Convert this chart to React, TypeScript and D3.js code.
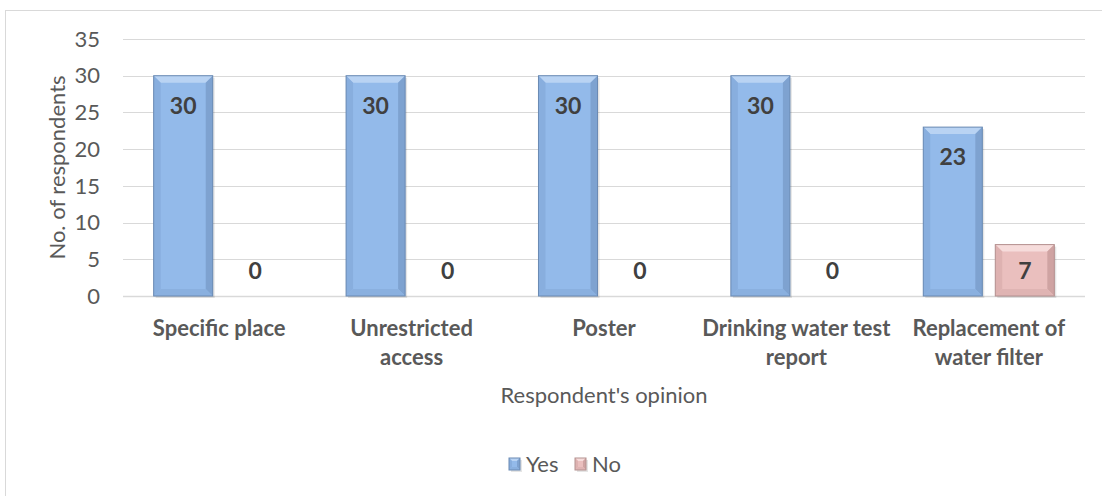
import React from "react";
import * as d3 from "d3";

const categories: string[][] = [
  ["Specific place"],
  ["Unrestricted", "access"],
  ["Poster"],
  ["Drinking water test", "report"],
  ["Replacement of", "water filter"],
];
const yesValues = [30, 30, 30, 30, 23];
const noValues = [0, 0, 0, 0, 7];
const seriesNames = ["Yes", "No"];
const yTicks = [0, 5, 10, 15, 20, 25, 30, 35];

const W = 1102;
const H = 496;
const FONT = "Lato, 'Open Sans', sans-serif";

const colors: Record<string, { base: string; light: string; dark: string; darker: string; bottom: string; stroke: string }> = {
  Yes: { base: "#93BAEA", light: "#B9D3F3", dark: "#88AEDE", darker: "#7EA2D0", bottom: "#8AB0DF", stroke: "#6A8AB3" },
  No: { base: "#EABFBE", light: "#F6DCDB", dark: "#DEB2B1", darker: "#CFA3A2", bottom: "#DFB4B3", stroke: "#B39190" },
};

function BevelBar({ x, y, w, h, s, b0 = 7 }: { x: number; y: number; w: number; h: number; s: string; b0?: number }) {
  if (h <= 0) return null;
  const c = colors[s];
  const b = Math.min(b0, h / 2, w / 2);
  const x2 = x + w;
  const y2 = y + h;
  return (
    <g>
      <rect x={x + 2} y={y + 2} width={w} height={h} fill="#000" opacity={0.1} />
      <rect x={x} y={y} width={w} height={h} fill={c.base} />
      <polygon points={`${x},${y} ${x2},${y} ${x2 - b},${y + b} ${x + b},${y + b}`} fill={c.light} />
      <polygon points={`${x},${y} ${x + b},${y + b} ${x + b},${y2 - b} ${x},${y2}`} fill={c.dark} />
      <polygon points={`${x2},${y} ${x2},${y2} ${x2 - b},${y2 - b} ${x2 - b},${y + b}`} fill={c.darker} />
      <polygon points={`${x},${y2} ${x + b},${y2 - b} ${x2 - b},${y2 - b} ${x2},${y2}`} fill={c.bottom} />
      <rect x={x} y={y} width={w} height={h} fill="none" stroke={c.stroke} strokeWidth={1} />
    </g>
  );
}

export default function App() {
  const x = d3
    .scaleBand<number>()
    .domain(d3.range(categories.length))
    .range([123, 1085])
    .paddingInner(0)
    .paddingOuter(0);
  const xs = d3
    .scaleBand<string>()
    .domain(seriesNames)
    .range([0, x.bandwidth()])
    .paddingInner(0.18)
    .paddingOuter(0.426);
  const y = d3.scaleLinear().domain([0, 35]).range([296, 39]);

  const series: Record<string, number[]> = { Yes: yesValues, No: noValues };

  return (
    <div style={{ position: "absolute", left: 0, top: 0 }}>
      <svg width={W} height={H} style={{ display: "block", fontFamily: FONT }}>
        <rect x={0} y={0} width={W} height={H} fill="#fff" />
        <rect x={5.5} y={10.5} width={1200} height={600} fill="none" stroke="#D9D9D9" strokeWidth={1} />
        {yTicks.map((t) => (
          <g key={t}>
            <line
              x1={123}
              x2={1085}
              y1={Math.round(y(t)) + 0.5}
              y2={Math.round(y(t)) + 0.5}
              stroke="#D9D9D9"
              strokeWidth={t === 0 ? 1.5 : 1}
            />
            <text x={100} y={y(t)} dy="0.35em" textAnchor="end" fontSize={22} fill="#595959">
              {t}
            </text>
          </g>
        ))}
        <text
          transform={`translate(57,${(y(0) + y(35)) / 2}) rotate(-90)`}
          textAnchor="middle"
          dy="0.35em"
          fontSize={22}
          fill="#595959"
        >
          No. of respondents
        </text>
        {categories.map((cat, i) =>
          seriesNames.map((s) => {
            const v = series[s][i];
            const bx = (x(i) as number) + (xs(s) as number);
            const bw = xs.bandwidth();
            const top = y(v);
            const ly = s === "Yes" ? top + 30 : y(0) - 25;
            return (
              <g key={`${i}-${s}`}>
                <BevelBar x={bx} y={top} w={bw} h={y(0) - top} s={s} />
                <text
                  x={bx + bw / 2}
                  y={ly}
                  dy="0.35em"
                  textAnchor="middle"
                  fontSize={23}
                  fontWeight="bold"
                  fill="#404040"
                >
                  {v}
                </text>
              </g>
            );
          })
        )}
        {categories.map((cat, i) => (
          <text
            key={i}
            x={(x(i) as number) + x.bandwidth() / 2}
            textAnchor="middle"
            fontSize={22}
            fontWeight="bold"
            fill="#595959"
          >
            {cat.map((line, j) => (
              <tspan key={j} x={(x(i) as number) + x.bandwidth() / 2} y={328 + j * 29} dy="0.35em">
                {line}
              </tspan>
            ))}
          </text>
        ))}
        <text x={604} y={395} dy="0.35em" textAnchor="middle" fontSize={22} fill="#595959">
          Respondent's opinion
        </text>
        {seriesNames.map((s, i) => {
          const lx = i === 0 ? 509 : 575;
          return (
            <g key={s}>
              <BevelBar x={lx} y={458} w={11} h={12} s={s} b0={3} />
              <text x={lx + 17} y={464} dy="0.35em" fontSize={22} fill="#595959">
                {s}
              </text>
            </g>
          );
        })}
      </svg>
    </div>
  );
}
